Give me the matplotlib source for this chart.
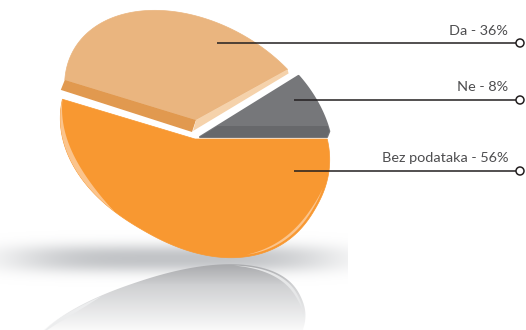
import numpy as np
from matplotlib import pyplot as plt
from matplotlib.patches import Polygon, Circle, Rectangle

labels = ['Da', 'Ne', 'Bez podataka']
shares = [36, 8, 56]

W, H = 526, 330
fig = plt.figure(figsize=(W / 100, H / 100), dpi=100)
ax = fig.add_axes([0, 0, 1, 1])
ax.set_xlim(0, W)
ax.set_ylim(H, 0)
ax.axis('off')


def radius(theta, a, b, phi, p=2.0):
    # distance to the edge of a tilted superellipse, angles in degrees
    rel = np.radians(theta - phi)
    return (np.abs(np.cos(rel) / a) ** p + np.abs(np.sin(rel) / b) ** p) ** (-1 / p)


def arc(apex, start, end, shape, inset=0.0, n=200):
    t = np.linspace(start, end, n)
    r = radius(t, *shape) - inset
    return np.column_stack([apex[0] + r * np.cos(np.radians(t)),
                            apex[1] - r * np.sin(np.radians(t))])


def wedge(apex, start, end, shape):
    return np.vstack([apex, arc(apex, start, end, shape)])


def crescent(apex, start, end, shape, inset, width):
    outer = arc(apex, start, end, shape, inset)
    t = np.linspace(start, end, len(outer))
    r = radius(t, *shape) - inset - width * np.sin(np.linspace(0, np.pi, len(t)))
    inner = np.column_stack([apex[0] + r * np.cos(np.radians(t)),
                             apex[1] - r * np.sin(np.radians(t))])
    return np.vstack([outer, inner[::-1]])


def mirrored(pts):
    # reflection in the floor, squashed and leaning left
    lift = 261 - pts[:, 1]
    return np.column_stack([pts[:, 0] - 0.27 * lift, 262 + 0.68 * lift])


# slice angles come from the shares, going round from the east side
grey_end = shares[1] * 3.6
tan_end = grey_end + shares[0] * 3.6

orange_apex = np.array([195, 139])
orange_shape = (139, 105, 150, 2.25)
orange_pts = wedge(orange_apex, tan_end + 4.9, 360, orange_shape)

tan_apex = np.array([196, 120])
tan_shape = (141, 97, 150)
tan_pts = wedge(tan_apex, grey_end + 0.1, tan_end + 4.6, tan_shape)

grey_apex = np.array([200, 137])
grey_shape = (140, 111, 150)
grey_pts = wedge(grey_apex, 0, grey_end + 3, grey_shape)
# rounded off lower right corner
low = grey_pts[:, 1] > 127
grey_pts[low, 0] = np.minimum(grey_pts[low, 0], 331 - (grey_pts[low, 1] - 127) * 0.4)

# soft floor shadow
xx, yy = np.meshgrid(np.arange(0, 348), np.arange(225, 295))
fade = np.exp(-(np.abs(xx - 172) / 160) ** 4) * np.exp(-(np.abs(yy - 258) / 14) ** 2.4)
shadow = np.zeros(xx.shape + (4,))
shadow[..., :3] = np.array([194, 196, 199]) / 255
shadow[..., 3] = fade
ax.imshow(shadow, extent=(0, 348, 295, 225), aspect='auto', zorder=1, interpolation='bilinear')

# mirrored pie below the floor line, fading downwards
mirror = mirrored(arc(orange_apex, 150, 385, orange_shape))
mirror_patch = Polygon(mirror, closed=True, fc='none', ec='none', zorder=2)
ax.add_patch(mirror_patch)
ramp = np.linspace(0, 1, 70)
top = np.array([163, 164, 167]) / 255
mid = np.array([205, 206, 208]) / 255
grad = np.ones((70, 1, 4))
grad[:, 0, :3] = top[None, :] + (mid - top)[None, :] * np.clip(ramp * 3, 0, 1)[:, None]
grad[:, 0, :3] += (1 - mid)[None, :] * np.clip(ramp * 1.3 - 0.4, 0, 1)[:, None]
img = ax.imshow(grad, extent=(0, 348, 331, 261), aspect='auto', zorder=2)
img.set_clip_path(mirror_patch)
ax.add_patch(Polygon(mirrored(crescent(orange_apex, 289, 342, orange_shape, 2, 3)),
                     closed=True, fc='#E6E7E8', ec='none', zorder=2.5))
ax.add_patch(Polygon(mirrored(crescent(orange_apex, 185, 222, orange_shape, 1, 5)),
                     closed=True, fc='#ECEDEE', ec='none', zorder=2.5))

ax.set_xlim(0, W)
ax.set_ylim(H, 0)

# orange slice with its two glossy rims
ax.add_patch(Polygon(orange_pts, closed=True, fc='#F89831', ec='#F89831', lw=0.5, zorder=3))
ax.add_patch(Polygon(crescent(orange_apex, 163, 222, orange_shape, 0, 5.5),
                     closed=True, fc='#FBC48C', ec='none', zorder=4))
ax.add_patch(Polygon(crescent(orange_apex, 294, 339, orange_shape, 2, 2.5),
                     closed=True, fc='#FBC48C', ec='none', zorder=4))

# tan slice: top face, darker front strip, light right edge
tan_left = tan_pts[-1]
tan_right = tan_pts[1]
ax.add_patch(Polygon(tan_pts, closed=True, fc='#EAB57F', ec='#EAB57F', lw=0.5, zorder=3))
ax.add_patch(Polygon([tan_left, tan_apex, tan_apex + [-4, 12], tan_left + [-4, 10]],
                     closed=True, fc='#E1994F', ec='none', zorder=4))
ax.add_patch(Polygon([tan_right, tan_right + [1, 4], tan_apex + [-3, 11], tan_apex],
                     closed=True, fc='#F5D2AB', ec='none', zorder=4))

# grey slice with a darker strip along the bottom
grey_patch = Polygon(grey_pts, closed=True, fc='#76777A', ec='#76777A', lw=1.5,
                     joinstyle='round', zorder=3)
ax.add_patch(grey_patch)
strip = Rectangle((190, 126), 150, 14, fc='#67686B', ec='none', zorder=4)
ax.add_patch(strip)
strip.set_clip_path(grey_patch)

# leader lines with open end markers
line_starts = [(217, 43), (294, 100), (294, 171)]
text_y = [31, 87, 158]
for name, share, (x0, y0), ty in zip(labels, shares, line_starts, text_y):
    ax.plot([x0, 516], [y0, y0], color='#231F20', lw=1.1, solid_capstyle='butt', zorder=6)
    ax.add_patch(Circle((520, y0), 4, fc='white', ec='#231F20', lw=1.1, zorder=7))
    ax.text(508, ty, f'{name} - {share}%', ha='right', va='center', fontsize=10.4,
            family='Lato', color='#4D4D4F', zorder=7)

fig.savefig('out.png', dpi=100)
